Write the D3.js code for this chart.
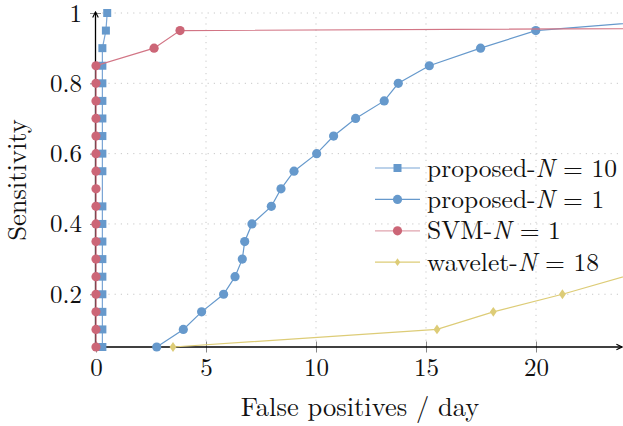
<!DOCTYPE html>
<html>
<head>
<meta charset="utf-8">
<script src="https://cdn.jsdelivr.net/npm/d3@7"></script>
<style>
  body { margin: 0; background: #fff; }
  svg { display: block; }
  text { font-family: "Latin Modern Roman", "CMU Serif", "Liberation Serif", serif; fill: #111; }
</style>
</head>
<body>
<svg id="chart" width="623" height="426"></svg>
<script>
// x tick values / y tick values
var xTicks = [0, 5, 10, 15, 20];
var yTicks = [0.2, 0.4, 0.6, 0.8, 1];
var yTickLabels = ["0.2", "0.4", "0.6", "0.8", "1"];

// proposed-N = 10 (false positives/day, sensitivity)
var propN10X = [0.29, 0.29, 0.29, 0.29, 0.29, 0.29, 0.29, 0.29, 0.29, 0.29, 0.29, 0.29, 0.29, 0.29, 0.29, 0.29, 0.29, 0.45, 0.51];
var propN10Y = [0.05, 0.10, 0.15, 0.20, 0.25, 0.30, 0.35, 0.40, 0.45, 0.55, 0.60, 0.65, 0.70, 0.75, 0.80, 0.85, 0.90, 0.95, 1.00];

// proposed-N = 1
var propN1X = [2.76, 3.97, 4.8, 5.8, 6.32, 6.65, 6.76, 7.09, 7.97, 8.41, 9.0, 10.03, 10.8, 11.8, 13.1, 13.74, 15.15, 17.48, 19.99, 30];
var propN1Y = [0.05, 0.10, 0.15, 0.20, 0.25, 0.30, 0.35, 0.40, 0.45, 0.50, 0.55, 0.60, 0.65, 0.70, 0.75, 0.80, 0.85, 0.90, 0.95, 1.00];

// SVM-N = 1
var svmX = [0, 0, 0, 0, 0, 0, 0, 0, 0, 0, 0, 0, 0, 0, 0, 0, 0, 2.64, 3.82, 40];
var svmY = [0.05, 0.10, 0.15, 0.20, 0.25, 0.30, 0.35, 0.40, 0.45, 0.50, 0.55, 0.60, 0.65, 0.70, 0.75, 0.80, 0.85, 0.90, 0.95, 0.96];

// wavelet-N = 18
var waveX = [3.5, 15.5, 18.06, 21.2, 26.8];
var waveY = [0.05, 0.10, 0.15, 0.20, 0.30];

var series = [
  {name: "proposed-", n: " = 10", xs: propN10X, ys: propN10Y, color: "#6699cc", line: "#7aa5d5", marker: "square"},
  {name: "proposed-", n: " = 1", xs: propN1X, ys: propN1Y, color: "#6699cc", line: "#6699cc", marker: "circle"},
  {name: "SVM-", n: " = 1", xs: svmX, ys: svmY, color: "#cc6677", line: "#d27585", marker: "circle"},
  {name: "wavelet-", n: " = 18", xs: waveX, ys: waveY, color: "#ddcc77", line: "#ddcc77", marker: "diamond"}
];

var svg = d3.select("#chart");
var pLeft = 96, pRight = 624, pTop = 13, pBottom = 347;

var x = d3.scaleLinear().domain([0, 24]).range([pLeft, pRight]);
var y = d3.scaleLinear().domain([0.05, 1]).range([pBottom, pTop]);

var defs = svg.append("defs");
defs.append("clipPath").attr("id", "plotclip")
  .append("rect").attr("x", 80).attr("y", 0).attr("width", pRight - 80 - 1).attr("height", 360);
defs.append("marker").attr("id", "arrow")
  .attr("viewBox", "0 0 10 10").attr("refX", 9).attr("refY", 5)
  .attr("markerWidth", 8).attr("markerHeight", 8).attr("markerUnits", "userSpaceOnUse").attr("orient", "auto")
  .append("path").attr("d", "M2,1.5 L9,5 L2,8.5").attr("fill", "none").attr("stroke", "#000").attr("stroke-width", 1.4);

// grid
var grid = svg.append("g");
grid.selectAll(".gx").data(xTicks.filter(d => d > 0)).enter().append("line")
  .attr("x1", d => x(d)).attr("x2", d => x(d)).attr("y1", pBottom).attr("y2", pTop)
  .attr("stroke", "#c8c8c8").attr("stroke-dasharray", "1.2,5").attr("stroke-width", 1);
grid.selectAll(".gy").data(yTicks).enter().append("line")
  .attr("x1", pLeft).attr("x2", pRight).attr("y1", d => y(d)).attr("y2", d => y(d))
  .attr("stroke", "#c8c8c8").attr("stroke-dasharray", "1.2,5").attr("stroke-width", 1);

// axes
var xAxis = svg.append("g").attr("transform", "translate(0," + pBottom + ")")
  .call(d3.axisBottom(x).tickValues(xTicks).tickSize(5.5).tickPadding(6).tickFormat(d3.format("d")));
xAxis.select(".domain").remove();
xAxis.selectAll(".tick line").attr("y1", -5.5).attr("stroke", "#888");
xAxis.selectAll(".tick text").attr("font-size", 25).attr("fill", "#111");

var yAxis = svg.append("g").attr("transform", "translate(" + (pLeft - 0.5) + ",0)")
  .call(d3.axisLeft(y).tickValues(yTicks).tickSize(5.5).tickPadding(8).tickFormat((d, i) => yTickLabels[i]));
yAxis.select(".domain").remove();
yAxis.selectAll(".tick line").attr("x1", 5.5).attr("stroke", "#888");
yAxis.selectAll(".tick text").attr("font-size", 25).attr("fill", "#111");
svg.selectAll("g").filter(function () { return this.getAttribute("font-family"); }).attr("font-family", null);

svg.append("line").attr("x1", pLeft - 0.5).attr("x2", 622).attr("y1", pBottom).attr("y2", pBottom)
  .attr("stroke", "#000").attr("stroke-width", 1.3).attr("marker-end", "url(#arrow)");
svg.append("line").attr("x1", pLeft - 0.5).attr("x2", pLeft - 0.5).attr("y1", pBottom).attr("y2", pTop - 1)
  .attr("stroke", "#000").attr("stroke-width", 1.3).attr("marker-end", "url(#arrow)");

// marker drawing helper
function drawMarker(sel, type, size, color) {
  if (type === "square") {
    sel.append("rect").attr("x", -size).attr("y", -size).attr("width", size * 2).attr("height", size * 2).attr("fill", color);
  } else if (type === "circle") {
    sel.append("circle").attr("r", size + 0.6).attr("fill", color);
  } else {
    sel.append("path").attr("d", "M0," + (-size * 1.15) + " L" + (size * 0.8) + ",0 L0," + (size * 1.15) + " L" + (-size * 0.8) + ",0Z").attr("fill", color);
  }
}

var plot = svg.append("g").attr("clip-path", "url(#plotclip)");
var line = d3.line().x(d => x(d[0])).y(d => y(d[1]));

series.forEach(s => {
  var pts = s.xs.map((v, i) => [v, s.ys[i]]);
  plot.append("path").datum(pts).attr("d", line)
    .attr("fill", "none").attr("stroke", s.line).attr("stroke-width", 1.2);
  var sz = s.marker === "diamond" ? 4.3 : 4;
  plot.selectAll(null).data(pts.filter(p => p[0] <= 24)).enter().append("g")
    .attr("transform", d => "translate(" + x(d[0]) + "," + y(d[1]) + ")")
    .each(function () { drawMarker(d3.select(this), s.marker, sz, s.color); });
});

// legend
var legend = svg.append("g").attr("transform", "translate(375,168)");
series.forEach((s, i) => {
  var row = legend.append("g").attr("transform", "translate(0," + (i * 31.4) + ")");
  row.append("line").attr("x1", 0).attr("x2", 45).attr("y1", 0).attr("y2", 0)
    .attr("stroke", s.line).attr("stroke-width", 1.2).attr("opacity", i === 2 ? 0.65 : 1);
  var g = row.append("g").attr("transform", "translate(22.5,0)");
  drawMarker(g, s.marker, s.marker === "diamond" ? 3.4 : 4, s.color);
  var t = row.append("text").attr("x", 52).attr("y", 8.5).attr("font-size", 25.5);
  t.append("tspan").text(s.name);
  t.append("tspan").attr("font-style", "italic").text("N");
  t.append("tspan").text(s.n);
});

// axis titles
svg.append("text").attr("x", (pLeft + pRight) / 2).attr("y", 416).attr("text-anchor", "middle")
  .attr("font-size", 26.5).text("False positives / day");
svg.append("text").attr("transform", "translate(26," + ((pTop + pBottom) / 2) + ") rotate(-90)")
  .attr("text-anchor", "middle").attr("font-size", 26.5).text("Sensitivity");
</script>
</body>
</html>
